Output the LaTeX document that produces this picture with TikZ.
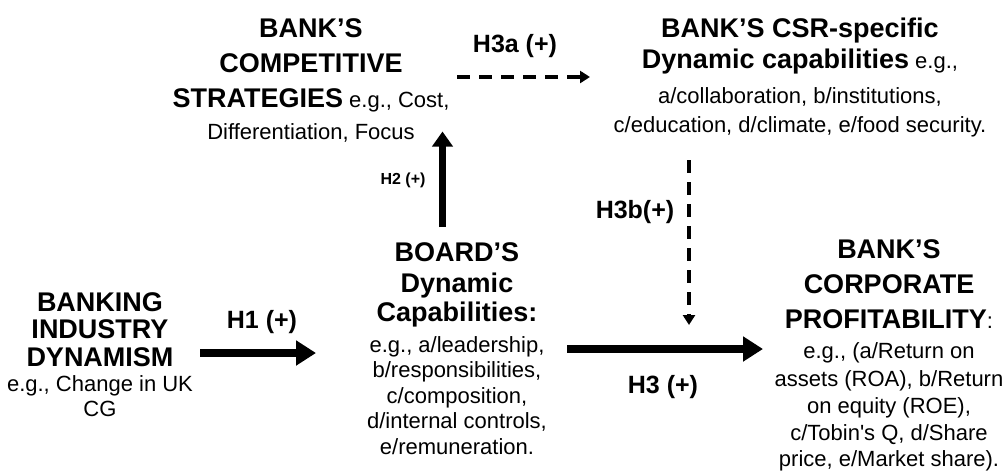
\documentclass[tikz,border=0pt]{standalone}
\usepackage{fontspec}
\setmainfont{Liberation Sans}
\usetikzlibrary{arrows.meta}
% fonts: bold construct titles, regular examples, bold hypothesis labels
\newcommand{\ttl}{\fontsize{27}{28}\selectfont\bfseries}
\newcommand{\dsc}{\fontsize{22}{26.5}\selectfont}
\newcommand{\lbl}{\fontsize{25}{28}\selectfont\bfseries}
\newcommand{\slbl}{\fontsize{16}{18}\selectfont\bfseries}

\tikzset{
  block/.style={align=center, inner sep=0pt, anchor=north, font=\dsc},
  hlabel/.style={font=\lbl, inner sep=0pt},
  bigarrow/.style={line width=8pt, -{Triangle[length=20pt,width=24pt]}},
  midarrow/.style={line width=7pt, -{Triangle[length=15pt,width=20pt]}},
  dasharrow/.style={line width=3.5pt, dash pattern=on 13pt off 9pt,
                    -{Triangle[length=10pt,width=12pt]}},
}

\begin{document}
\begin{tikzpicture}[x=1pt,y=-1pt]
\useasboundingbox (0,0) rectangle (1005,472);

% construct blocks
\node[block, font=\fontsize{22}{25}\selectfont] (industry) at (100,292.3)
  {{\ttl BANKING}\\[2pt]{\ttl INDUSTRY}\\[3pt]{\ttl DYNAMISM}\\
   e.g., Change in UK\\CG};

\node[block, font=\fontsize{22}{25.5}\selectfont] (board) at (457,242.3)
  {{\ttl BOARD’S}\\[5.5pt]{\ttl Dynamic}\\[3.5pt]{\ttl Capabilities:}\\[5.5pt]
   e.g., a/leadership,\\b/responsibilities,\\c/composition,\\
   d/internal controls,\\e/remuneration.};

\node[block] (strategy) at (311,18.3)
  {{\ttl BANK’S}\\[8.5pt]{\ttl COMPETITIVE}\\[8.5pt]{\ttl STRATEGIES} e.g., Cost,\\[5.5pt]
   Differentiation, Focus};

\node[block] (csr) at (800,17.3)
  {{\ttl BANK’S CSR-specific}\\[4.5pt]{\ttl Dynamic capabilities} e.g.,\\[8.5pt]
   a/collaboration, b/institutions,\\[2.5pt]
   c/education, d/climate, e/food security.};

\node[block] (profit) at (889,239)
  {{\ttl BANK’S}\\[8.5pt]{\ttl CORPORATE}\\[8.5pt]{\ttl PROFITABILITY}:\\[3.5pt]
   e.g., (a/Return on\\[1.5pt]assets (ROA), b/Return\\[0.5pt]on equity (ROE),\\[0.5pt]
   c/Tobin\textquotesingle s Q, d/Share\\price, e/Market share).};

% connector end points
\coordinate (h1from) at (200,353);
\coordinate (h1to)   at (316,353);
\coordinate (h2from) at (442.5,227);
\coordinate (h2to)   at (442.5,131.5);
\coordinate (h3from) at (567,349);
\coordinate (h3to)   at (763,349);
\coordinate (h3afrom) at (457,77);
\coordinate (h3ato)   at (590,77);
\coordinate (h3bfrom) at (689,160);
\coordinate (h3bto)   at (689,325);

% hypothesised paths
\draw[bigarrow] (h1from) -- (h1to);
\draw[midarrow] (h2from) -- (h2to);
\draw[bigarrow] (h3from) -- (h3to);
\draw[dasharrow] (h3afrom) -- (h3ato);
\draw[dasharrow] (h3bfrom) -- (h3bto);

% hypothesis labels
\node[hlabel] (h1) at (262,322) {H1 (+)};
\node[hlabel, font=\slbl] (h2) at (403,180) {H2 (+)};
\node[hlabel] (h3a) at (515,46) {H3a (+)};
\node[hlabel] (h3b) at (635,212) {H3b(+)};
\node[hlabel] (h3) at (663,387) {H3 (+)};
\end{tikzpicture}
\end{document}
